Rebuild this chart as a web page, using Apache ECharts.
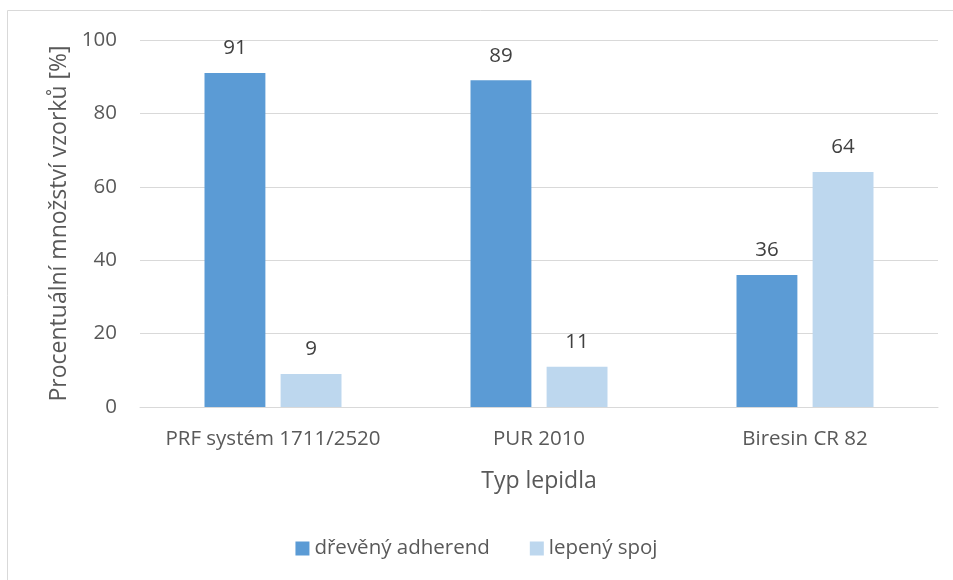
<!DOCTYPE html>
<html>
<head>
<meta charset="utf-8">
<script src="https://cdn.jsdelivr.net/npm/echarts@6/dist/echarts.min.js"></script>
<style>
  html, body { margin: 0; padding: 0; background: #fff; }
  #chart { width: 953px; height: 580px; }
</style>
</head>
<body>
<div id="chart"></div>
<script>
const categories = ['PRF systém 1711/2520', 'PUR 2010', 'Biresin CR 82'];
const adherend = [91, 89, 36];
const spoj = [9, 11, 64];
const yTicks = [0, 20, 40, 60, 80, 100];

const font = '"Open Sans", "Noto Sans", sans-serif';
const chart = echarts.init(document.getElementById('chart'));

const labelStyle = {
    show: true,
    position: 'top',
    distance: 14,
    color: '#404040',
    fontSize: 20.5,
    fontFamily: font
};

chart.setOption({
    animation: false,
    graphic: [{
        type: 'rect',
        shape: { x: 7.5, y: 10.5, width: 960, height: 600 },
        style: { fill: 'none', stroke: '#d9d9d9', lineWidth: 1 },
        silent: true
    }],
    grid: { left: 140, right: 15, top: 40, bottom: 173 },
    legend: {
        bottom: 16,
        left: 'center',
        itemWidth: 14,
        itemHeight: 14,
        itemGap: 40,
        itemTextGap: 4,
        icon: 'rect',
        textStyle: { color: '#595959', fontSize: 20.5, fontFamily: font }
    },
    xAxis: {
        type: 'category',
        data: categories,
        name: 'Typ lepidla',
        nameLocation: 'middle',
        nameGap: 63,
        nameTextStyle: { color: '#595959', fontSize: 23, fontFamily: font },
        axisLine: { lineStyle: { color: '#d9d9d9', width: 1 } },
        axisTick: { show: false },
        axisLabel: { color: '#595959', fontSize: 20.5, fontFamily: font, margin: 22, interval: 0 }
    },
    yAxis: {
        type: 'value',
        min: yTicks[0],
        max: yTicks[yTicks.length - 1],
        interval: 20,
        name: 'Procentuální množství vzorků [%]',
        nameLocation: 'middle',
        nameGap: 68,
        nameTextStyle: { color: '#595959', fontSize: 23, fontFamily: font },
        axisLine: { show: false },
        axisTick: { show: false },
        axisLabel: { color: '#595959', fontSize: 20.5, fontFamily: font, margin: 23 },
        splitLine: { lineStyle: { color: '#d9d9d9', width: 1 } }
    },
    series: [
        {
            name: 'dřevěný adherend',
            type: 'bar',
            data: adherend,
            barGap: '25%',
            barCategoryGap: '48.5%',
            itemStyle: { color: '#5b9bd5' },
            label: labelStyle
        },
        {
            name: 'lepený spoj',
            type: 'bar',
            data: spoj,
            itemStyle: { color: '#bdd7ee' },
            label: labelStyle
        }
    ]
});
</script>
</body>
</html>
